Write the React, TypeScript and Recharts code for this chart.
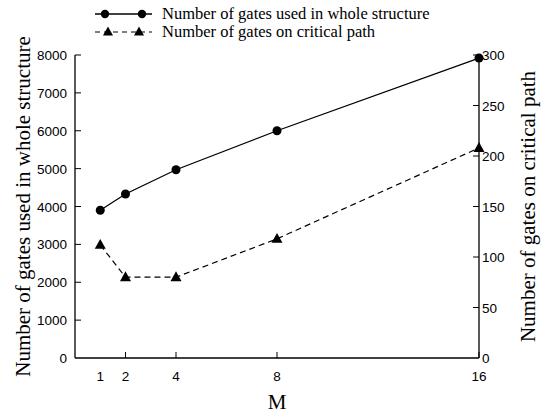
import { Label, Legend, Line, LineChart, XAxis, YAxis } from "recharts"

const mValues = [1, 2, 4, 8, 16]
const wholeGates = [3900, 4330, 4970, 6000, 7920]
const criticalGates = [112, 80, 80, 118, 208]
const leftTicks = [0, 1000, 2000, 3000, 4000, 5000, 6000, 7000, 8000]
const rightTicks = [0, 50, 100, 150, 200, 250, 300]

const data = mValues.map((m, i) => ({
  m,
  whole: wholeGates[i],
  critical: criticalGates[i],
}))

const serif = "'Liberation Serif', serif"
const sans = "'Liberation Sans', sans-serif"

const Triangle = ({ cx, cy, size = 10 }: { cx: number; cy: number; size?: number }) => {
  const h = size * 0.9
  return (
    <path
      d={`M${cx},${cy - h * 0.6} L${cx + size / 2},${cy + h * 0.4} L${cx - size / 2},${cy + h * 0.4} Z`}
      fill="#000"
    />
  )
}

// ticks point into the plot, so draw tick line + label by hand
const BottomTick = (p: any) => (
  <g>
    {p.payload.value !== 1 && <line x1={p.x} y1={p.y} x2={p.x} y2={p.y - 6} stroke="#000" strokeWidth={1} />}
    <text x={p.x} y={p.y + 23} textAnchor="middle" fontFamily={sans} fontSize={13.5} fill="#000">
      {p.payload.value}
    </text>
  </g>
)

const LeftTick = (p: any) => (
  <g>
    {p.payload.value !== 0 && <line x1={p.x} y1={p.y} x2={p.x + 6} y2={p.y} stroke="#000" strokeWidth={1} />}
    <text x={p.x - 8} y={p.y + 5} textAnchor="end" fontFamily={sans} fontSize={13.5} fill="#000">
      {p.payload.value}
    </text>
  </g>
)

const RightTick = (p: any) => (
  <g>
    {p.payload.value !== 0 && <line x1={p.x} y1={p.y} x2={p.x - 6} y2={p.y} stroke="#000" strokeWidth={1} />}
    <text x={p.x + 3} y={p.y + 5} textAnchor="start" fontFamily={sans} fontSize={13.5} fill="#000">
      {p.payload.value}
    </text>
  </g>
)

const LegendContent = () => (
  <div style={{ height: 40, position: "relative", fontFamily: serif, fontSize: 16.5, color: "#000" }}>
    <svg width={70} height={40} style={{ position: "absolute", left: 93, top: 0 }}>
      <line x1={2} y1={14} x2={59} y2={14} stroke="#000" strokeWidth={1.3} />
      <circle cx={12} cy={14} r={4.2} fill="#000" />
      <circle cx={49} cy={14} r={4.2} fill="#000" />
      <line x1={2} y1={32} x2={59} y2={32} stroke="#000" strokeWidth={1.2} strokeDasharray="5 4" />
      <Triangle cx={15} cy={32} size={10} />
      <Triangle cx={46} cy={32} size={10} />
    </svg>
    <div style={{ position: "absolute", left: 162, top: 5, lineHeight: "18px", whiteSpace: "nowrap" }}>
      Number of gates used in whole structure
    </div>
    <div style={{ position: "absolute", left: 162, top: 23, lineHeight: "18px", whiteSpace: "nowrap" }}>
      Number of gates on critical path
    </div>
  </div>
)

const rotatedLabel = (text: string, cx: number) => ({ viewBox }: any) => {
  const cy = viewBox.y + viewBox.height / 2
  return (
    <text
      x={cx}
      y={cy}
      transform={`rotate(-90, ${cx}, ${cy})`}
      textAnchor="middle"
      dominantBaseline="central"
      fontFamily={serif}
      fontSize={21}
      fill="#000"
    >
      {text}
    </text>
  )
}

export default function App() {
  return (
    <div style={{ position: "absolute", left: 0, top: 0, width: 545, height: 416, background: "#fff" }}>
      <LineChart width={545} height={416} data={data} margin={{ top: 15, right: 0, bottom: 0, left: 0 }}>
        <Legend
          verticalAlign="top"
          content={<LegendContent />}
          wrapperStyle={{ top: 0, left: 0, width: 545, height: 40 }}
        />
        <XAxis
          dataKey="m"
          type="number"
          domain={[0, 16]}
          ticks={mValues}
          height={58}
          tick={<BottomTick />}
          tickSize={0}
          tickMargin={0}
          tickLine={false}
          axisLine={{ stroke: "#000", strokeWidth: 1.3 }}
        >
          <Label
            content={({ viewBox }: any) => (
              <text
                x={viewBox.x + viewBox.width / 2}
                y={viewBox.y + 51}
                textAnchor="middle"
                fontFamily={serif}
                fontSize={21}
                fill="#000"
              >
                M
              </text>
            )}
          />
        </XAxis>
        <YAxis
          yAxisId="left"
          domain={[0, 8000]}
          ticks={leftTicks}
          width={75}
          tick={<LeftTick />}
          tickSize={0}
          tickMargin={0}
          tickLine={false}
          axisLine={{ stroke: "#000", strokeWidth: 1.3 }}
        >
          <Label content={rotatedLabel("Number of gates used in whole structure", 23)} />
        </YAxis>
        <YAxis
          yAxisId="right"
          orientation="right"
          domain={[0, 300]}
          ticks={rightTicks}
          width={66}
          tick={<RightTick />}
          tickSize={0}
          tickMargin={0}
          tickLine={false}
          axisLine={{ stroke: "#000", strokeWidth: 1.3 }}
        >
          <Label content={rotatedLabel("Number of gates on critical path", 528)} />
        </YAxis>
        <Line
          yAxisId="left"
          dataKey="whole"
          type="linear"
          stroke="#000"
          strokeWidth={1.3}
          dot={{ r: 4.5, fill: "#000", stroke: "#000", strokeWidth: 0 }}
          isAnimationActive={false}
        />
        <Line
          yAxisId="right"
          dataKey="critical"
          type="linear"
          stroke="#000"
          strokeWidth={1.2}
          strokeDasharray="6 4"
          dot={(p: any) => <Triangle key={`t-${p.index}`} cx={p.cx} cy={p.cy} size={11} />}
          isAnimationActive={false}
        />
      </LineChart>
    </div>
  )
}
